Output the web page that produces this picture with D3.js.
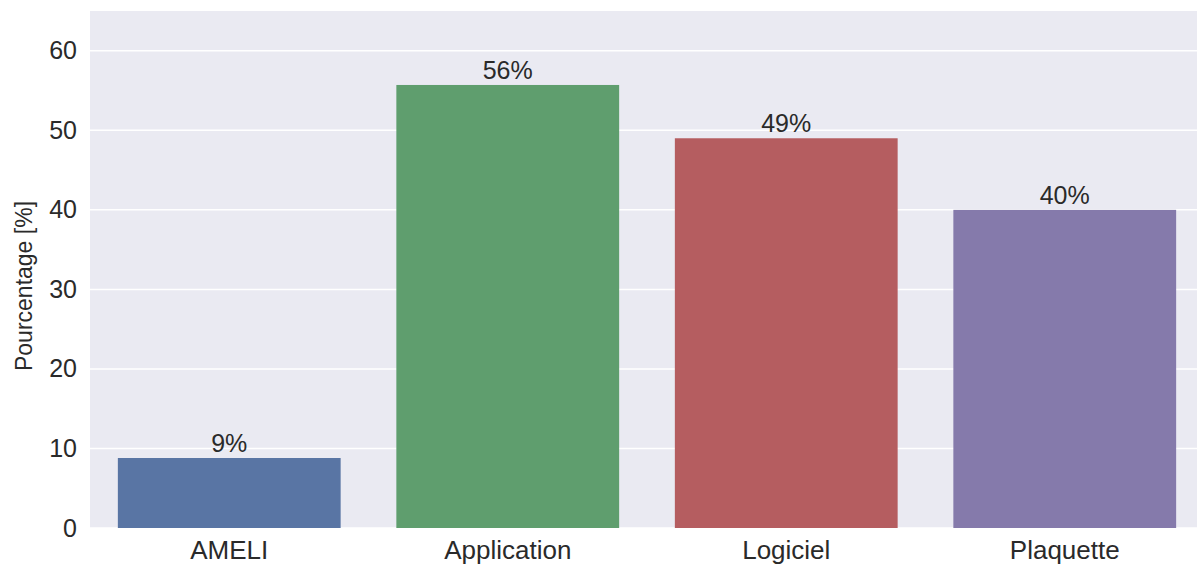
<!DOCTYPE html>
<html>
<head>
<meta charset="utf-8">
<script src="https://cdn.jsdelivr.net/npm/d3@7"></script>
<style>
  body { margin: 0; background: #fff; }
  svg { display: block; font-family: "Liberation Sans", Arial, sans-serif; }
</style>
</head>
<body>
<svg id="chart"></svg>
<script>
const width = 1197;
const height = 567;
const margin = {top: 11, right: -7, bottom: 39, left: 90};

const categories = ["AMELI", "Application", "Logiciel", "Plaquette"];
const values = [8.8, 55.7, 49.0, 40.0];
const labels = ["9%", "56%", "49%", "40%"];
const yTicks = [0, 10, 20, 30, 40, 50, 60];
const colors = ["#5975a4", "#5f9e6e", "#b55d60", "#857aab"];

const svg = d3.select("#chart")
    .attr("width", width)
    .attr("height", height);

const x = d3.scaleBand()
    .domain(categories)
    .range([margin.left, width - margin.right])
    .paddingInner(0.2)
    .paddingOuter(0.1);

const y = d3.scaleLinear()
    .domain([0, 65])
    .range([height - margin.bottom, margin.top]);

// background
svg.append("rect")
    .attr("x", margin.left)
    .attr("y", margin.top)
    .attr("width", width - margin.right - margin.left)
    .attr("height", height - margin.bottom - margin.top)
    .attr("fill", "#eaeaf2");

// grid
svg.append("g")
    .selectAll("line")
    .data(yTicks)
    .join("line")
    .attr("x1", margin.left)
    .attr("x2", width - margin.right)
    .attr("y1", d => y(d))
    .attr("y2", d => y(d))
    .attr("stroke", "#fff")
    .attr("stroke-width", 1.5);

// bars
const data = categories.map((c, i) => ({cat: c, value: values[i], label: labels[i], color: colors[i]}));

svg.append("g")
    .selectAll("rect")
    .data(data)
    .join("rect")
    .attr("x", d => x(d.cat))
    .attr("y", d => y(d.value))
    .attr("width", x.bandwidth())
    .attr("height", d => y(0) - y(d.value))
    .attr("fill", d => d.color);

svg.append("g")
    .selectAll("text")
    .data(data)
    .join("text")
    .attr("x", d => x(d.cat) + x.bandwidth() / 2)
    .attr("y", d => y(d.value) - 6)
    .attr("text-anchor", "middle")
    .attr("font-size", 25)
    .attr("fill", "#2a2a2a")
    .text(d => d.label);

// axes
const xAxis = g => g
    .attr("transform", `translate(0,${height - margin.bottom})`)
    .call(d3.axisBottom(x).tickSize(0).tickPadding(13))
    .call(g => g.select(".domain").remove())
    .call(g => g.selectAll("text").attr("font-size", 26).attr("fill", "#2a2a2a"));

const yAxis = g => g
    .attr("transform", `translate(${margin.left},0)`)
    .call(d3.axisLeft(y).tickValues(yTicks).tickSize(0).tickPadding(13))
    .call(g => g.select(".domain").remove())
    .call(g => g.selectAll("text").attr("font-size", 25).attr("fill", "#2a2a2a"));

svg.append("g").call(xAxis);
svg.append("g").call(yAxis);

svg.append("text")
    .attr("transform", "translate(32,286) rotate(-90)")
    .attr("text-anchor", "middle")
    .attr("font-size", 23)
    .attr("fill", "#2a2a2a")
    .text("Pourcentage [%]");
</script>
</body>
</html>
